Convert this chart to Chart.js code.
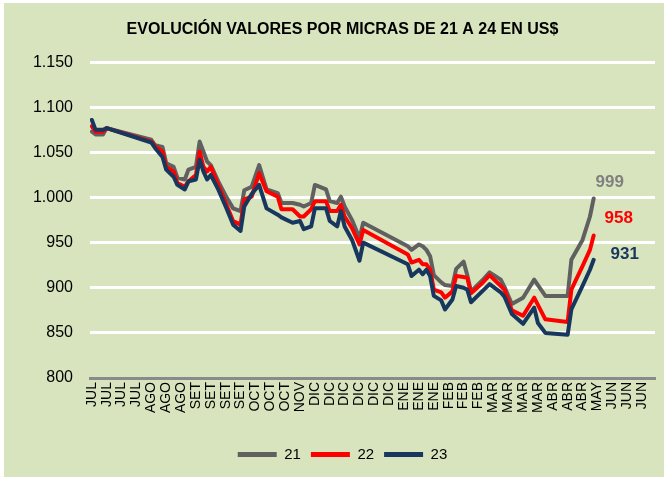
<!DOCTYPE html>
<html><head><meta charset="utf-8">
<script src="https://cdn.jsdelivr.net/npm/chart.js@4"></script>
<style>html,body{margin:0;padding:0;background:#fff;} canvas{display:block;}</style>
</head><body>
<canvas id="c" width="667" height="480"></canvas>
<script>
// Tick labels (one every 4 categories on the x axis)
const MONTH_TICKS = ['JUL','JUL','JUL','JUL','AGO','AGO','AGO','SET','SET','SET','SET','OCT','OCT','OCT','NOV',
  'DIC','DIC','DIC','DIC','DIC','DIC','ENE','ENE','ENE','FEB','FEB','FEB','MAR','MAR','MAR','MAR',
  'ABR','ABR','ABR','MAY','JUN','JUN','JUN'];
const TICK_EVERY = 4;
const N_CATEGORIES = 152;
// Category index of each data point
const CAT = [0,1,3,4,16,17,19,20,22,23,25,26,28,29,30,31,32,34,36,38,40,41,43,45,47,50,51,54,56,57,59,60,63,64,66,67,68,70,72,73,
  85,86,88,89,90,91,92,94,95,97,98,100,101,102,105,107,110,111,113,116,119,120,122,128,129,132,134,135];
const S21 = [1073,1070,1070,1077,1064,1058,1056,1038,1034,1022,1020,1031,1034,1062,1051,1040,1036,1018,1002,988,985,1008,1012,1036,1009,1005,994,994,992,990,994,1014,1009,996,994,1001,990,975,955,972,
  946,942,948,946,942,935,914,906,903,902,921,929,914,896,908,917,909,901,882,889,909,903,891,891,931,953,979,999];
const S22 = [1079,1073,1073,1077,1062,1057,1051,1034,1029,1016,1012,1018,1025,1051,1034,1029,1034,1014,994,974,970,998,1001,1027,1007,1001,987,987,979,979,987,996,996,985,985,992,979,966,948,964,
  937,928,931,926,926,920,898,895,889,896,913,912,911,894,905,914,902,898,875,869,889,881,865,862,898,924,942,958];
const S23 = [1086,1075,1075,1077,1061,1055,1045,1031,1023,1014,1009,1018,1020,1042,1029,1020,1025,1009,990,970,963,990,1004,1014,988,981,978,972,974,965,968,988,988,974,968,985,968,953,930,950,
  926,913,920,915,920,913,891,886,876,887,902,900,898,884,896,904,895,890,871,860,878,861,850,848,876,902,920,931];
const SERIES_NAMES = ['21','22','23'];
const Y_MIN = 800, Y_MAX = 1150, Y_STEP = 50;

const COLORS = ['#606060','#ff0000','#17375e'];
const LABEL_COLORS = ['#808080','#ff0000','#17375e'];

function pts(vals){ return CAT.map((c,i)=>({x:c, y:vals[i]})); }
function fmt(v){ return v >= 1000 ? Math.floor(v/1000) + '.' + String(v % 1000).padStart(3,'0') : String(v); }

const bgPlugin = {
  id:'bg',
  beforeDraw(chart){
    const ctx = chart.ctx;
    ctx.save();
    ctx.fillStyle = '#d7e4bd';
    ctx.fillRect(4, 3, chart.width - 7, chart.height - 6);
    ctx.restore();
  }
};

const endLabels = {
  id:'endLabels',
  afterDatasetsDraw(chart){
    const ctx = chart.ctx;
    const offs = [[16,-16],[25,-17],[31,-5]];
    chart.data.datasets.forEach((ds,i)=>{
      const meta = chart.getDatasetMeta(i);
      const last = meta.data[meta.data.length-1];
      const v = ds.data[ds.data.length-1].y;
      ctx.save();
      ctx.font = 'bold 17px "Liberation Sans", Arial, sans-serif';
      ctx.fillStyle = LABEL_COLORS[i];
      ctx.textAlign = 'center';
      ctx.textBaseline = 'middle';
      ctx.fillText(String(v), last.x + offs[i][0], last.y + offs[i][1]);
      ctx.restore();
    });
  }
};

const datasets = [S21,S22,S23].map((s,i)=>({
  label: SERIES_NAMES[i],
  data: pts(s),
  borderColor: COLORS[i],
  backgroundColor: COLORS[i],
  borderWidth: 4,
  borderJoinStyle: 'round',
  borderCapStyle: 'round',
  pointRadius: 0,
  tension: 0,
  order: 3 - i
}));

new Chart(document.getElementById('c'), {
  type: 'line',
  data: { datasets },
  plugins: [bgPlugin, endLabels],
  options: {
    responsive: false,
    animation: false,
    layout: { padding: { left: 30, right: 12, top: 0, bottom: 8 } },
    plugins: {
      title: {
        display: true,
        text: 'EVOLUCIÓN VALORES POR MICRAS DE 21 A 24 EN US$',
        color: '#000',
        font: { family: '"Liberation Sans", Arial, sans-serif', size: 16, weight: 'bold', lineHeight: 1.2 },
        padding: { top: 20, bottom: 23 }
      },
      legend: {
        position: 'bottom',
        reverse: true,
        labels: {
          color: '#000',
          font: { family: '"Liberation Sans", Arial, sans-serif', size: 15 },
          boxWidth: 39,
          boxHeight: 5,
          padding: 10,
          generateLabels(chart){
            const items = Chart.defaults.plugins.legend.labels.generateLabels(chart);
            items.forEach(it => { it.lineWidth = 0; it.fillStyle = it.strokeStyle; });
            return items;
          }
        }
      },
      tooltip: { enabled: false }
    },
    scales: {
      x: {
        type: 'linear',
        min: -0.5,
        max: N_CATEGORIES - 0.5,
        afterBuildTicks(scale){ scale.ticks = MONTH_TICKS.map((m,i)=>({ value: i * TICK_EVERY })); },
        afterFit(scale){ scale.height = 59; },
        grid: { display: false, drawTicks: false },
        border: { display: true, color: '#8a8a8a', width: 3 },
        ticks: {
          autoSkip: false,
          minRotation: 90, maxRotation: 90,
          padding: 4,
          color: '#000',
          font: { family: '"Liberation Sans", Arial, sans-serif', size: 14 },
          callback: (v) => MONTH_TICKS[Math.round(v / TICK_EVERY)]
        }
      },
      y: {
        min: Y_MIN, max: Y_MAX,
        afterFit(scale){ scale.width = 60; },
        grid: {
          color: (c) => c.tick && c.tick.value === Y_MIN ? 'rgba(0,0,0,0)' : '#ffffff',
          lineWidth: 3,
          drawTicks: false
        },
        border: { display: false },
        ticks: {
          stepSize: Y_STEP,
          padding: 17,
          color: '#000',
          font: { family: '"Liberation Sans", Arial, sans-serif', size: 16 },
          callback: (v) => fmt(v)
        }
      }
    }
  }
});
</script>
</body></html>
